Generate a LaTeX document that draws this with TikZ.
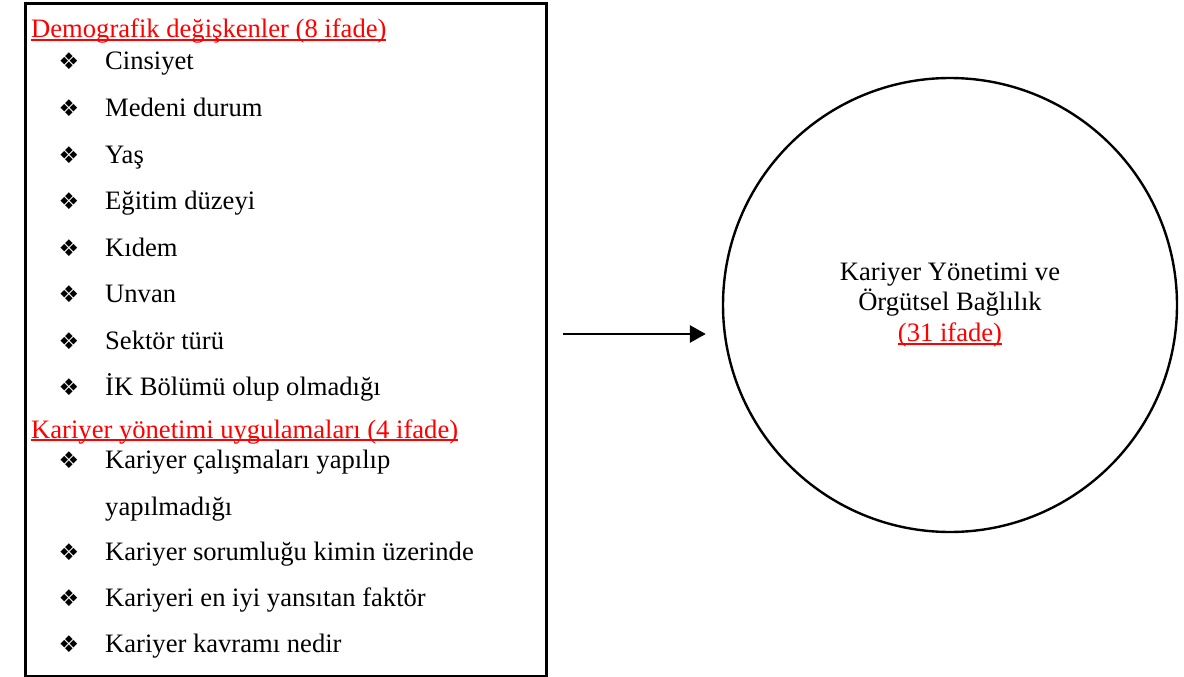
\documentclass[tikz,border=0pt]{standalone}
\usepackage{fontspec}
\setmainfont{Liberation Serif}
\newfontfamily\bulletfont{DejaVu Sans}
\usetikzlibrary{arrows.meta}
\usetikzlibrary{positioning}

% red underlined heading text
\newcommand\redul[1]{\textcolor{red}{\setbox0\hbox{#1}\rlap{\rule[-3.2pt]{\wd0}{1.8pt}}\box0}}

\tikzset{
  listbox/.style={draw, line width=3pt, minimum width=521pt, minimum height=672pt, inner sep=0pt},
  bigcircle/.style={circle, draw, line width=2.4pt, minimum size=454pt, inner sep=0pt, align=center,
    font=\fontsize{26.6}{30.5}\selectfont},
  heading/.style={anchor=base west, inner sep=0pt, font=\fontsize{26.6}{30}\selectfont},
  itemtxt/.style={anchor=base west, inner sep=0pt, font=\fontsize{26.6}{30}\selectfont},
  bulletsym/.style={anchor=base, inner sep=0pt, font=\bulletfont\fontsize{23}{24}\selectfont},
  arr/.style={-{Triangle[length=16pt, width=17pt]}, line width=2.8pt}
}

\begin{document}
\begin{tikzpicture}[x=1pt, y=-1pt]
  \useasboundingbox (0,0) rectangle (1184,677);

  \node[listbox] (box) at (285.5,340) {};
  \node[bigcircle] (circ) at (950,305) {Kariyer Yönetimi ve\\Örgütsel Bağlılık\\\redul{(31 ifade)}};

  % first group
  \node[heading] (hd1) at (31,38) {\redul{Demografik değişkenler (8 ifade)}};
  \foreach \y/\txt [count=\i] in {70/Cinsiyet, 116.5/Medeni durum, 163/Yaş, 209.5/Eğitim düzeyi,
      256/Kıdem, 302.5/Unvan, 349/Sektör türü, 395.5/İK Bölümü olup olmadığı}{
    \node[bulletsym] (bl\i) at (69,\y) {❖};
    \node[itemtxt] (it\i) at (105,\y) {\txt};
  }

  % second group
  \node[heading] (hd2) at (31,438) {\redul{Kariyer yönetimi uygulamaları (4 ifade)}};
  \foreach \y/\txt [count=\i] in {468/Kariyer çalışmaları yapılıp, 560/Kariyer sorumluğu kimin üzerinde,
      606/Kariyeri en iyi yansıtan faktör, 652/Kariyer kavramı nedir}{
    \node[bulletsym] (kb\i) at (69,\y) {❖};
    \node[itemtxt] (kt\i) at (105,\y) {\txt};
  }
  \node[itemtxt] (kt1b) at (105,515) {yapılmadığı};

  \coordinate (ar) at (0,334);
  \draw[arr, shorten <=15pt, shorten >=16pt] (box.east |- ar) -- (circ.west |- ar);
\end{tikzpicture}
\end{document}
